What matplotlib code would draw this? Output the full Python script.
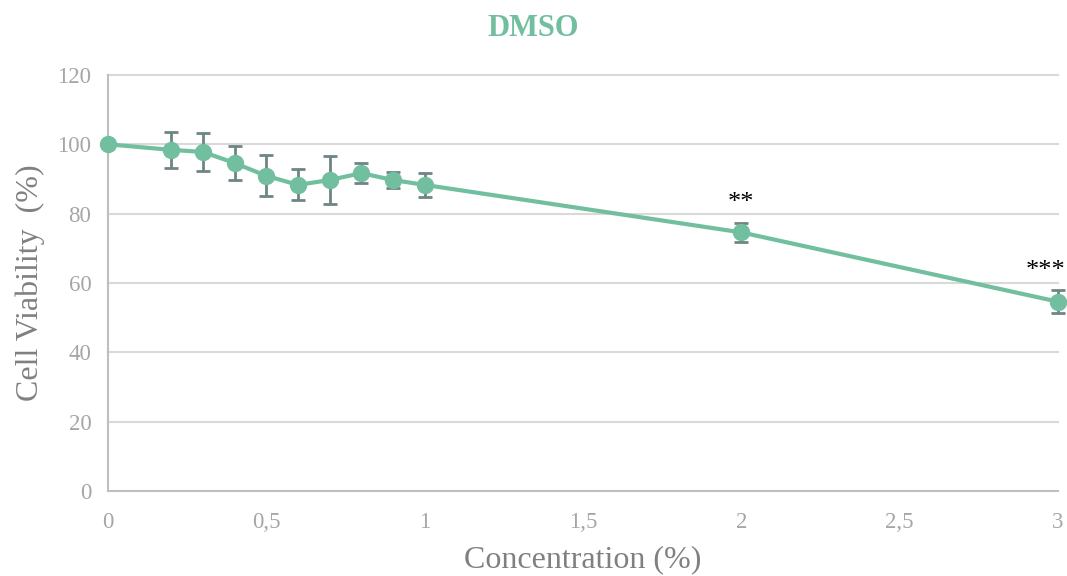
import matplotlib.pyplot as plt

conc = [0, 0.2, 0.3, 0.4, 0.5, 0.6, 0.7, 0.8, 0.9, 1.0, 2.0, 3.0]
viability = [100, 98.4, 97.8, 94.6, 90.9, 88.3, 89.7, 91.7, 89.7, 88.3, 74.6, 54.6]
err = [0, 5.3, 5.5, 5.0, 5.9, 4.5, 7.0, 2.9, 2.2, 3.5, 2.8, 3.3]
stars = {2.0: "**", 3.0: "***"}

xticks = [0, 0.5, 1, 1.5, 2, 2.5, 3]
xticklabels = ["0", "0,5", "1", "1,5", "2", "2,5", "3"]
yticks = [0, 20, 40, 60, 80, 100, 120]

green = "#72BF9F"
plt.rcParams['font.family'] = ['Liberation Serif', 'DejaVu Serif']

fig = plt.figure(figsize=(10.67, 5.76), dpi=100)
ax = fig.add_axes([0.1012, 0.1476, 0.8904, 0.7222])

for y in yticks[1:]:
    ax.axhline(y, color="#D9D9D9", lw=1.5, zorder=0)

ax.errorbar(conc, viability, yerr=err, fmt="none", ecolor="#6F8584",
            elinewidth=2, capsize=5, capthick=2, zorder=2)
ax.plot(conc, viability, color=green, lw=3, marker="o", ms=11.5, zorder=3)

# significance stars, the last one nudged left so it stays inside the figure
for x, s in stars.items():
    i = conc.index(x)
    dx = -9 if x == 3.0 else 0
    ax.annotate(s, (x, viability[i] + err[i]), xytext=(dx, 6),
                textcoords="offset points", ha="center", va="bottom",
                fontsize=19, color="black")

ax.set_xlim(0, 3)
ax.set_ylim(0, 120)
ax.set_xticks(xticks)
ax.set_xticklabels(xticklabels)
ax.set_yticks(yticks)
ax.tick_params(length=0, labelsize=16.5, labelcolor="#A6A6A6", pad=12)
ax.tick_params(axis="x", pad=15)
for side in ["top", "right"]:
    ax.spines[side].set_visible(False)
for side in ["left", "bottom"]:
    ax.spines[side].set_color("#BFBFBF")
    ax.spines[side].set_linewidth(1.5)

ax.set_xlabel("Concentration (%)", fontsize=23, color="#808080", labelpad=9)
ax.set_ylabel("Cell Viability  (%)", fontsize=23, color="#808080", labelpad=9)
fig.suptitle("DMSO", fontsize=22, fontweight="bold", color=green, y=0.975)
for c in ax.get_children():
    c.set_clip_on(False)

fig.savefig("out.png", dpi=100)
